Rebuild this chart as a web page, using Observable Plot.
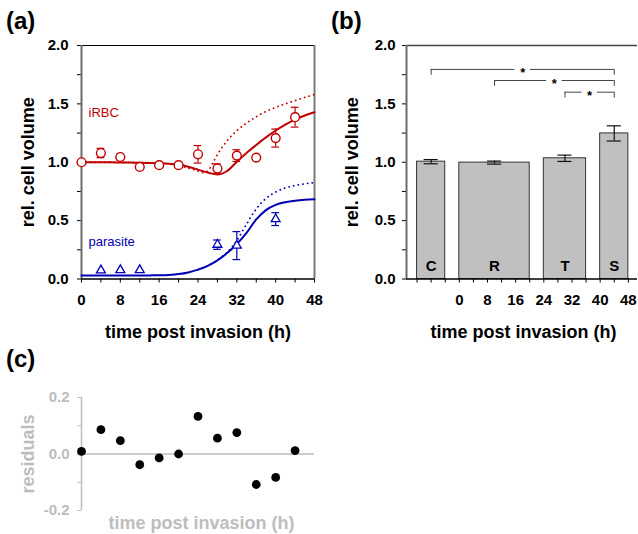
<!DOCTYPE html>
<html>
<head>
<meta charset="utf-8">
<script src="https://cdn.jsdelivr.net/npm/d3@7"></script>
<script src="https://cdn.jsdelivr.net/npm/@observablehq/plot@0.6"></script>
<style>
  html, body { margin: 0; padding: 0; background: #fff; }
  #chart { position: relative; width: 638px; height: 534px; overflow: hidden; font-family: "Liberation Sans", Arial, sans-serif; }
  #chart svg { position: absolute; overflow: visible; }
  .plabel { position: absolute; font-weight: bold; font-size: 24px; line-height: 24px; color: #000; }
</style>
</head>
<body>
<div id="chart">
  <div class="plabel" style="left:6px;top:9px">(a)</div>
  <div class="plabel" style="left:331px;top:9px">(b)</div>
  <div class="plabel" style="left:6px;top:347px">(c)</div>
</div>
<script>
// ---------- data ----------
const timePoints = [0, 4, 8, 12, 16, 20, 24, 28, 32, 36, 40, 44];
const irbcVolume = [1.000, 1.079, 1.045, 0.960, 0.975, 0.975, 1.068, 0.946, 1.057, 1.040, 1.207, 1.386];
const irbcError  = [0, 0.040, 0.025, 0, 0, 0, 0.075, 0.040, 0.050, 0, 0.077, 0.085];

const parasiteTime   = [4, 8, 12, 28, 32, 40];
const parasiteVolume = [0.075, 0.077, 0.077, 0.294, 0.286, 0.513];
const parasiteError  = [0, 0, 0, 0.040, 0.120, 0.055];

const irbcFitTime = [0,2,4,6,8,10,12,14,16,18,20,22,24,26,28,30,32,34,36,38,40,42,44,46,48];
const irbcFit     = [1.000,1.000,0.999,0.999,0.998,0.997,0.996,0.994,0.991,0.987,0.980,0.962,0.937,0.912,0.895,0.925,1.005,1.080,1.148,1.213,1.272,1.323,1.365,1.400,1.428];

const irbcAltTime = [0,2,4,6,8,10,12,14,16,18,20,22,24,25,26,27,28,29,30,32,34,36,38,40,42,44,46,48];
const irbcAlt     = [1.000,1.000,1.000,1.000,0.999,0.998,0.997,0.995,0.992,0.985,0.972,0.950,0.925,0.912,0.925,0.990,1.065,1.130,1.185,1.270,1.335,1.390,1.435,1.470,1.500,1.528,1.555,1.580];

const parFitTime = [0,2,4,6,8,10,12,14,16,18,20,22,24,26,28,30,32,34,36,38,40,42,44,46,48];
const parFit     = [0.030,0.030,0.030,0.030,0.030,0.030,0.030,0.031,0.032,0.035,0.042,0.056,0.080,0.113,0.160,0.222,0.300,0.395,0.510,0.590,0.635,0.658,0.671,0.679,0.684];

const parAltTime = [24,26,28,30,32,34,36,38,40,42,44,46,48];
const parAlt     = [0.080,0.113,0.162,0.228,0.330,0.470,0.600,0.690,0.745,0.780,0.800,0.815,0.825];

const stages      = ["C", "R", "T", "S"];
const stageStart  = [-12, 0, 24, 40];
const stageEnd    = [-4, 20, 36, 48];
const stageVolume = [1.005, 0.997, 1.034, 1.247];
const stageError  = [0.018, 0.013, 0.027, 0.065];

const sigFrom  = ["C", "R", "T"];
const sigTo    = ["S", "S", "S"];
const sigLevel = [1.795, 1.70, 1.60];

const residuals = [0.009, 0.086, 0.047, -0.038, -0.014, 0.000, 0.133, 0.056, 0.076, -0.108, -0.083, 0.012];

const volumeTicks = [0, 0.5, 1, 1.5, 2];
const volumeMinorTicks = [0.25, 0.75, 1.25, 1.75];
const timeTicks = [0, 8, 16, 24, 32, 40, 48];
const timeMinorTicks = [4, 12, 20, 28, 36, 44];
const stageMinorTicks = [-12, -8, -4, 4, 12, 20, 28, 36, 44];
const residualTicks = [-0.2, 0, 0.2];
const residualMinorTicks = [-0.1, 0.1];

// ---------- tables ----------
const irbc = timePoints.map((t, i) => ({t, v: irbcVolume[i], e: irbcError[i]}));
const irbcE = irbc.filter(d => d.e > 0);
const parasite = parasiteTime.map((t, i) => ({t, v: parasiteVolume[i], e: parasiteError[i]}));
const parasiteE = parasite.filter(d => d.e > 0);
const irbcFitData = irbcFitTime.map((t, i) => ({t, v: irbcFit[i]}));
const irbcAltData = irbcAltTime.map((t, i) => ({t, v: irbcAlt[i]}));
const parFitData = parFitTime.map((t, i) => ({t, v: parFit[i]}));
const parAltData = parAltTime.map((t, i) => ({t, v: parAlt[i]}));
const stageData = stages.map((s, i) => ({s, x1: stageStart[i], x2: stageEnd[i], mid: (stageStart[i] + stageEnd[i]) / 2, v: stageVolume[i], e: stageError[i]}));
const midOf = s => stageData.find(d => d.s === s).mid;
const sigData = sigFrom.map((f, i) => { const a = midOf(f), b = midOf(sigTo[i]); return {a, b, c: (a + b) / 2, y: sigLevel[i]}; });
const resid = timePoints.map((t, i) => ({t, r: residuals[i]}));

// ---------- styles ----------
const FONT = "'Liberation Sans', Arial, Helvetica, sans-serif";
const RED = "#c00000", BLUE = "#0000b4", GRAY = "#bdbdbd";
const fmt1 = d => d.toFixed(1);
const baseStyle = {fontFamily: FONT, fontWeight: "bold", fontSize: "15px", color: "#000", background: "transparent", overflow: "visible"};
const GAP = 2.2, LEG = 0.05, CAP_A = 0.8, CAP_B = 2;
const DOTTED = {strokeWidth: 1.8, strokeDasharray: "0.1,4.6", strokeLinecap: "round", curve: "monotone-x"};

function errMarks(data, cap, color) {
  return [
    Plot.ruleX(data, {x: "t", y1: d => d.v - d.e, y2: d => d.v + d.e, stroke: color, strokeWidth: 1.2}),
    Plot.ruleY(data, {y: d => d.v + d.e, x1: d => d.t - cap, x2: d => d.t + cap, stroke: color, strokeWidth: 1.2}),
    Plot.ruleY(data, {y: d => d.v - d.e, x1: d => d.t - cap, x2: d => d.t + cap, stroke: color, strokeWidth: 1.2})
  ];
}

// ---------- panel (a) ----------
const panelA = Plot.plot({
  width: 320, height: 345,
  marginTop: 45, marginRight: 6, marginBottom: 66.5, marginLeft: 81,
  x: {domain: [0, 48]}, y: {domain: [0, 2]},
  style: baseStyle,
  marks: [
    Plot.ruleY([2], {stroke: "#000", strokeWidth: 1}),
    Plot.ruleX([48], {stroke: "#7a7a7a", strokeWidth: 2}),
    Plot.axisY({ticks: volumeTicks.concat(volumeMinorTicks), tickSize: 4, tickPadding: 9, tickFormat: d => volumeTicks.includes(d) ? fmt1(d) : "", label: null}),
    Plot.axisX({ticks: timeTicks.concat(timeMinorTicks), tickSize: 4, tickPadding: 11, tickFormat: d => timeTicks.includes(d) ? String(d) : "", label: null}),
    Plot.ruleX([0], {stroke: "#6a6a6a", strokeWidth: 2}),
    Plot.ruleY([0], {stroke: "#000", strokeWidth: 1.5}),
    Plot.line(irbcAltData, {x: "t", y: "v", stroke: RED, ...DOTTED}),
    Plot.line(parAltData, {x: "t", y: "v", stroke: BLUE, ...DOTTED}),
    Plot.line(irbcFitData, {x: "t", y: "v", stroke: RED, strokeWidth: 2, curve: "monotone-x"}),
    Plot.line(parFitData, {x: "t", y: "v", stroke: BLUE, strokeWidth: 2, curve: "monotone-x"}),
    ...errMarks(irbcE, CAP_A, RED),
    ...errMarks(parasiteE, CAP_A, BLUE),
    Plot.dot(irbc, {x: "t", y: "v", r: 4.4, stroke: RED, fill: "white", strokeWidth: 1.4}),
    Plot.dot(parasite, {x: "t", y: "v", symbol: "triangle", r: 3.3, stroke: BLUE, fill: "white", strokeWidth: 1.3}),
    Plot.text(["iRBC"], {text: d => d, frameAnchor: "top-left", dx: 7, dy: 71.7, textAnchor: "start", lineAnchor: "bottom", fill: RED, fontWeight: "normal", fontSize: 13}),
    Plot.text(["parasite"], {text: d => d, frameAnchor: "top-left", dx: 7, dy: 200.3, textAnchor: "start", lineAnchor: "bottom", fill: BLUE, fontWeight: "normal", fontSize: 13}),
    Plot.text(["time post invasion (h)"], {text: d => d, frameAnchor: "bottom", dy: 58.5, textAnchor: "middle", lineAnchor: "bottom", fontSize: 18}),
    Plot.text(["rel. cell volume"], {text: d => d, frameAnchor: "left", rotate: -90, dx: -48, textAnchor: "middle", lineAnchor: "bottom", fontSize: 18})
  ]
});

// ---------- panel (b) ----------
const stageErr = stageData.map(d => ({t: d.mid, v: d.v, e: d.e}));
const panelB = Plot.plot({
  width: 318, height: 345,
  marginTop: 45, marginRight: 1, marginBottom: 66.5, marginLeft: 86,
  x: {domain: [-15, 50.6]}, y: {domain: [0, 2]},
  style: baseStyle,
  marks: [
    Plot.ruleY([2], {stroke: "#444", strokeWidth: 1.3}),
    Plot.rectY(stageData, {x1: "x1", x2: "x2", y: "v", fill: "#c0c0c0", stroke: "#333", strokeWidth: 1}),
    ...errMarks(stageErr, CAP_B, "#111"),
    Plot.text(stageData, {x: "mid", text: "s", frameAnchor: "bottom", dy: -8.5, textAnchor: "middle", lineAnchor: "bottom", fontSize: 15}),
    Plot.ruleY(sigData, {y: "y", x1: "a", x2: d => d.c - GAP, stroke: "#444", strokeWidth: 1}),
    Plot.ruleY(sigData, {y: "y", x1: d => d.c + GAP, x2: "b", stroke: "#444", strokeWidth: 1}),
    Plot.ruleX(sigData, {x: "a", y1: d => d.y - LEG, y2: "y", stroke: "#444", strokeWidth: 1}),
    Plot.ruleX(sigData, {x: "b", y1: d => d.y - LEG, y2: "y", stroke: "#444", strokeWidth: 1}),
    Plot.text(sigData, {x: "c", y: "y", text: () => "*", lineAnchor: "bottom", dy: 7.5, fontSize: 13}),
    Plot.axisY({ticks: volumeTicks.concat(volumeMinorTicks), tickSize: 4, tickPadding: 7, tickFormat: d => volumeTicks.includes(d) ? fmt1(d) : "", label: null}),
    Plot.axisX({ticks: timeTicks.concat(stageMinorTicks), tickSize: 4, tickPadding: 11, tickFormat: d => timeTicks.includes(d) ? String(d) : "", label: null}),
    Plot.ruleX([-15], {stroke: "#6a6a6a", strokeWidth: 2}),
    Plot.ruleY([0], {stroke: "#000", strokeWidth: 1.5}),
    Plot.text(["time post invasion (h)"], {text: d => d, frameAnchor: "bottom", dx: 1.5, dy: 58.5, textAnchor: "middle", lineAnchor: "bottom", fontSize: 18}),
    Plot.text(["rel. cell volume"], {text: d => d, frameAnchor: "left", rotate: -90, dx: -49, textAnchor: "middle", lineAnchor: "bottom", fontSize: 18})
  ]
});

// ---------- panel (c) ----------
const panelC = Plot.plot({
  width: 320, height: 194,
  marginTop: 57, marginRight: 6, marginBottom: 24, marginLeft: 81,
  x: {domain: [0, 48], axis: null}, y: {domain: [-0.2, 0.2], axis: null},
  style: baseStyle,
  marks: [
    Plot.ruleY([0], {stroke: GRAY, strokeWidth: 1.5}),
    Plot.axisY({ticks: residualTicks.concat(residualMinorTicks), tickSize: 4, tickPadding: 8, tickFormat: d => residualTicks.includes(d) ? fmt1(d) : "", stroke: GRAY, fill: GRAY, label: null}),
    Plot.ruleX([0], {stroke: GRAY, strokeWidth: 1.5}),
    Plot.dot(resid, {x: "t", y: "r", r: 4.4, fill: "#000"}),
    Plot.text(["time post invasion (h)"], {text: d => d, frameAnchor: "bottom", dx: 3.5, dy: 18, textAnchor: "middle", lineAnchor: "bottom", fontSize: 18, fill: GRAY}),
    Plot.text(["residuals"], {text: d => d, frameAnchor: "left", rotate: -90, dx: -48, textAnchor: "middle", lineAnchor: "bottom", fontSize: 18, fill: GRAY})
  ]
});

const chart = document.getElementById("chart");
[[panelA, 0, 0], [panelB, 320, 0], [panelC, 0, 340]].forEach(([svg, left, top]) => {
  svg.style.left = left + "px";
  svg.style.top = top + "px";
  chart.append(svg);
});
</script>
</body>
</html>
